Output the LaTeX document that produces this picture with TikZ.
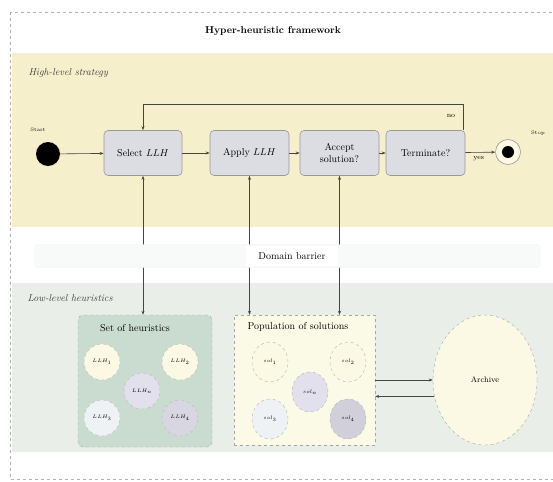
\documentclass[tikz,border=0pt]{standalone}
\usetikzlibrary{arrows.meta,shapes.geometric}
\definecolor{hlsbg}{HTML}{F6EFCB}
\definecolor{llhbg}{HTML}{E9EEE9}
\definecolor{setbg}{HTML}{C9DCCF}
\definecolor{popbg}{HTML}{FBFAE7}
\definecolor{nodebg}{HTML}{DCDCE3}
\definecolor{creamfill}{HTML}{FBF8E4}
\definecolor{lavfill}{HTML}{E2E0EC}
\definecolor{bluefill}{HTML}{EEF2F4}
\definecolor{greyfill}{HTML}{D0CFDA}
\definecolor{linecol}{HTML}{454545}
\definecolor{barfill}{HTML}{F8FAFA}
\tikzset{
  procbox/.style={draw=gray!80, fill=nodebg, rounded corners=4pt, line width=0.6pt,
    minimum height=45pt, align=center, inner sep=2pt},
  arr/.style={-{Stealth[length=4pt,width=3pt]}, draw=linecol, line width=0.6pt},
  biarr/.style={{Stealth[length=4pt,width=3pt]}-{Stealth[length=4pt,width=3pt]}, draw=linecol, line width=0.6pt},
  hcirc/.style={circle, dashed, draw=gray!55, minimum size=36pt, inner sep=0pt, font=\tiny},
  sellipse/.style={ellipse, dashed, draw=gray!60, minimum width=36pt, minimum height=40pt, inner sep=0pt, font=\tiny},
  regionlbl/.style={font=\itshape, anchor=west, text=black!75},
}
\begin{document}
\begin{tikzpicture}[x=1pt,y=-1pt]
\useasboundingbox (0,0) rectangle (553,481);
% regions
\fill[hlsbg] (12,53) rectangle (560,227);
\fill[llhbg] (12,283) rectangle (560,452);
\draw[dashed, gray!60, line width=0.5pt] (10,12) rectangle (600,479);
\node[font=\bfseries] (title) at (273,31) {Hyper-heuristic framework};
\node[regionlbl] (hl) at (25,73) {High-level strategy};
\node[regionlbl] (ll) at (24,298) {Low-level heuristics};

% high-level flow
\node[circle, fill=black, minimum size=24pt, inner sep=0pt] (start) at (48,154) {};
\node[font=\tiny] (startlbl) at (38,130) {Start};
\node[procbox, minimum width=78pt] (sel) at (143,153) {Select $LLH$};
\node[procbox, minimum width=79pt] (app) at (249.5,153) {Apply $LLH$};
\node[procbox, minimum width=79pt] (acc) at (339.5,153) {Accept\\solution?};
\node[procbox, minimum width=79pt] (ter) at (425.5,153) {Terminate?};
\node[circle, draw=gray!80, fill=creamfill, line width=0.6pt, minimum size=25pt, inner sep=0pt] (stop) at (508,152) {};
\node[circle, fill=black, minimum size=12pt, inner sep=0pt] (stopdot) at (stop) {};
\node[font=\tiny] (stoplbl) at (538,133) {Stop};

\draw[arr] (start) -- (sel);
\draw[arr] (sel) -- (app);
\draw[arr] (app) -- (acc);
\draw[arr] (acc) -- (ter);
\draw[arr] (ter) -- node[below, font=\scriptsize, pos=0.45] (yeslbl) {yes} (stop);
\coordinate (loopa) at (463,104);
\draw[arr] (ter.north -| loopa) -- (loopa) -- (loopa -| sel.north) -- (sel.north);
\node[font=\scriptsize] (nolbl) at (451,116) {no};

% low-level boxes
\node[draw=gray!70, dashed, fill=setbg, rounded corners=5pt, minimum width=134pt, minimum height=132pt] (set) at (145,381) {};
\node (settitle) at (135,328) {Set of heuristics};
\node[hcirc, fill=creamfill] (h1) at (102,362) {$LLH_1$};
\node[hcirc, fill=creamfill] (h2) at (180,362) {$LLH_2$};
\node[hcirc, fill=lavfill] (hn) at (142,391) {$LLH_n$};
\node[hcirc, fill=bluefill] (h3) at (102,418) {$LLH_3$};
\node[hcirc, fill=lavfill!90!gray] (h4) at (180,418) {$LLH_4$};

\node[draw=gray!70, dashed, fill=popbg, minimum width=141pt, minimum height=130pt] (pop) at (304.5,380) {};
\node (poptitle) at (298,327) {Population of solutions};
\node[sellipse, fill=creamfill] (s1) at (270,362) {$sol_1$};
\node[sellipse, fill=creamfill] (s2) at (348,362) {$sol_2$};
\node[sellipse, fill=lavfill] (sn) at (310,392) {$sol_n$};
\node[sellipse, fill=bluefill] (s3) at (270,419) {$sol_3$};
\node[sellipse, fill=greyfill] (s4) at (348,419) {$sol_4$};

\node[ellipse, dashed, draw=gray!70, fill=creamfill, minimum width=104pt, minimum height=130pt, inner sep=0pt, font=\footnotesize] (arch) at (485,380) {Archive};
\draw[arr] (pop.east |- arch.west) -- (arch.west);
\draw[arr] (arch.198) -- (pop.east |- arch.198);

% vertical links
\draw[biarr] (sel.south) -- (sel.south |- set.north);
\draw[biarr] (app.south) -- (app.south |- pop.north);
\draw[biarr] (acc.south) -- (acc.south |- pop.north);

% domain barrier
\node[draw=gray!12, fill=barfill, rounded corners=3pt, minimum width=505pt, minimum height=23pt, inner sep=0pt] (barrier) at (287,256) {};
\node[fill=white, minimum width=92pt, minimum height=20pt, inner sep=0pt] (barrierlbl) at (292,256) {Domain barrier};
\end{tikzpicture}
\end{document}
